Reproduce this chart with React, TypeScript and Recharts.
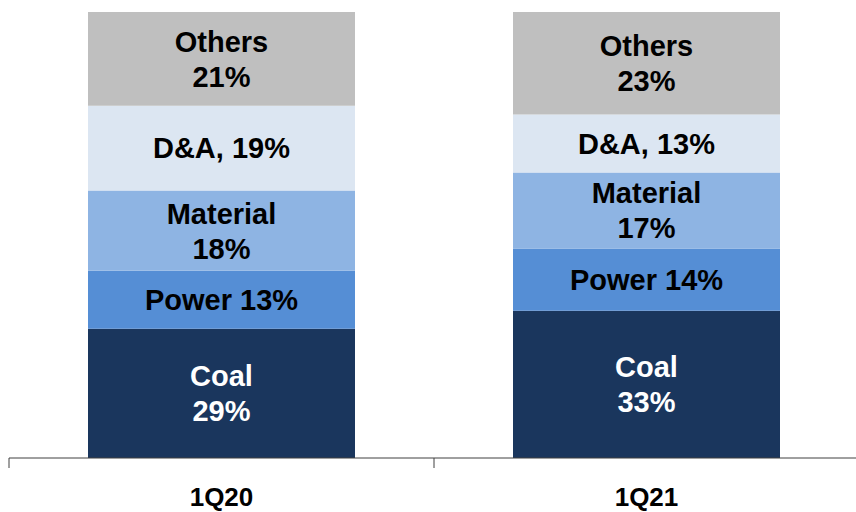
import React from 'react';
import { BarChart, Bar, XAxis, YAxis, LabelList } from 'recharts';

const periods = ['1Q20', '1Q21'];
const coal = [29, 33];
const power = [13, 14];
const material = [18, 17];
const da = [19, 13];
const others = [21, 23];

const data = periods.map((p, i) => ({
  period: p,
  coal: coal[i],
  power: power[i],
  material: material[i],
  da: da[i],
  others: others[i],
}));

const FONT = '"Liberation Sans", Arial, sans-serif';
const W = 856;
const H = 512;
const margin = { top: 12, right: -3, bottom: 0, left: 9 };
const band = (W - margin.left - margin.right) / periods.length;

// label text per segment: two lines or one line
const makeLabel = (name: string, twoLines: boolean, color: string) => (props: any) => {
  const { x, y, width, height, value } = props;
  const cx = x + width / 2;
  const cy = y + height / 2;
  const style = { fontFamily: FONT, fontWeight: 700, fontSize: 29, fill: color };
  if (twoLines) {
    return (
      <text x={cx} textAnchor="middle" style={style}>
        <tspan x={cx} y={cy - 7}>{name}</tspan>
        <tspan x={cx} y={cy + 28}>{value}%</tspan>
      </text>
    );
  }
  return (
    <text x={cx} y={cy + 10} textAnchor="middle" style={style}>
      {name}{name === 'D&A' ? ',' : ''} {value}%
    </text>
  );
};

const CategoryTick = (props: any) => {
  const { x, y, payload, index } = props;
  const left = x - band / 2;
  return (
    <g>
      <line x1={left} y1={y - 8} x2={left} y2={y + 2} stroke="#404040" strokeWidth={1} />
      {index === periods.length - 1 && (
        <line x1={left + band} y1={y - 8} x2={left + band} y2={y + 2} stroke="#404040" strokeWidth={1} />
      )}
      <text x={x} y={y + 40} textAnchor="middle" style={{ fontFamily: FONT, fontWeight: 700, fontSize: 26, fill: '#000' }}>
        {payload.value}
      </text>
    </g>
  );
};

export default function App() {
  return (
    <div style={{ position: 'absolute', left: 0, top: 0, width: W, height: H, background: '#fff' }}>
      <BarChart width={W} height={H} data={data} margin={margin} barSize={267}>
        <XAxis
          dataKey="period"
          height={54}
          axisLine={{ stroke: '#404040' }}
          tickLine={false}
          tick={<CategoryTick />}
          interval={0}
        />
        <YAxis hide domain={[0, 100]} />
        <Bar dataKey="coal" stackId="a" fill="#1a365d" isAnimationActive={false}>
          <LabelList dataKey="coal" content={makeLabel('Coal', true, '#fff')} />
        </Bar>
        <Bar dataKey="power" stackId="a" fill="#558ed5" isAnimationActive={false}>
          <LabelList dataKey="power" content={makeLabel('Power', false, '#000')} />
        </Bar>
        <Bar dataKey="material" stackId="a" fill="#8eb4e3" isAnimationActive={false}>
          <LabelList dataKey="material" content={makeLabel('Material', true, '#000')} />
        </Bar>
        <Bar dataKey="da" stackId="a" fill="#dce6f2" isAnimationActive={false}>
          <LabelList dataKey="da" content={makeLabel('D&A', false, '#000')} />
        </Bar>
        <Bar dataKey="others" stackId="a" fill="#bfbfbf" isAnimationActive={false}>
          <LabelList dataKey="others" content={makeLabel('Others', true, '#000')} />
        </Bar>
      </BarChart>
    </div>
  );
}
